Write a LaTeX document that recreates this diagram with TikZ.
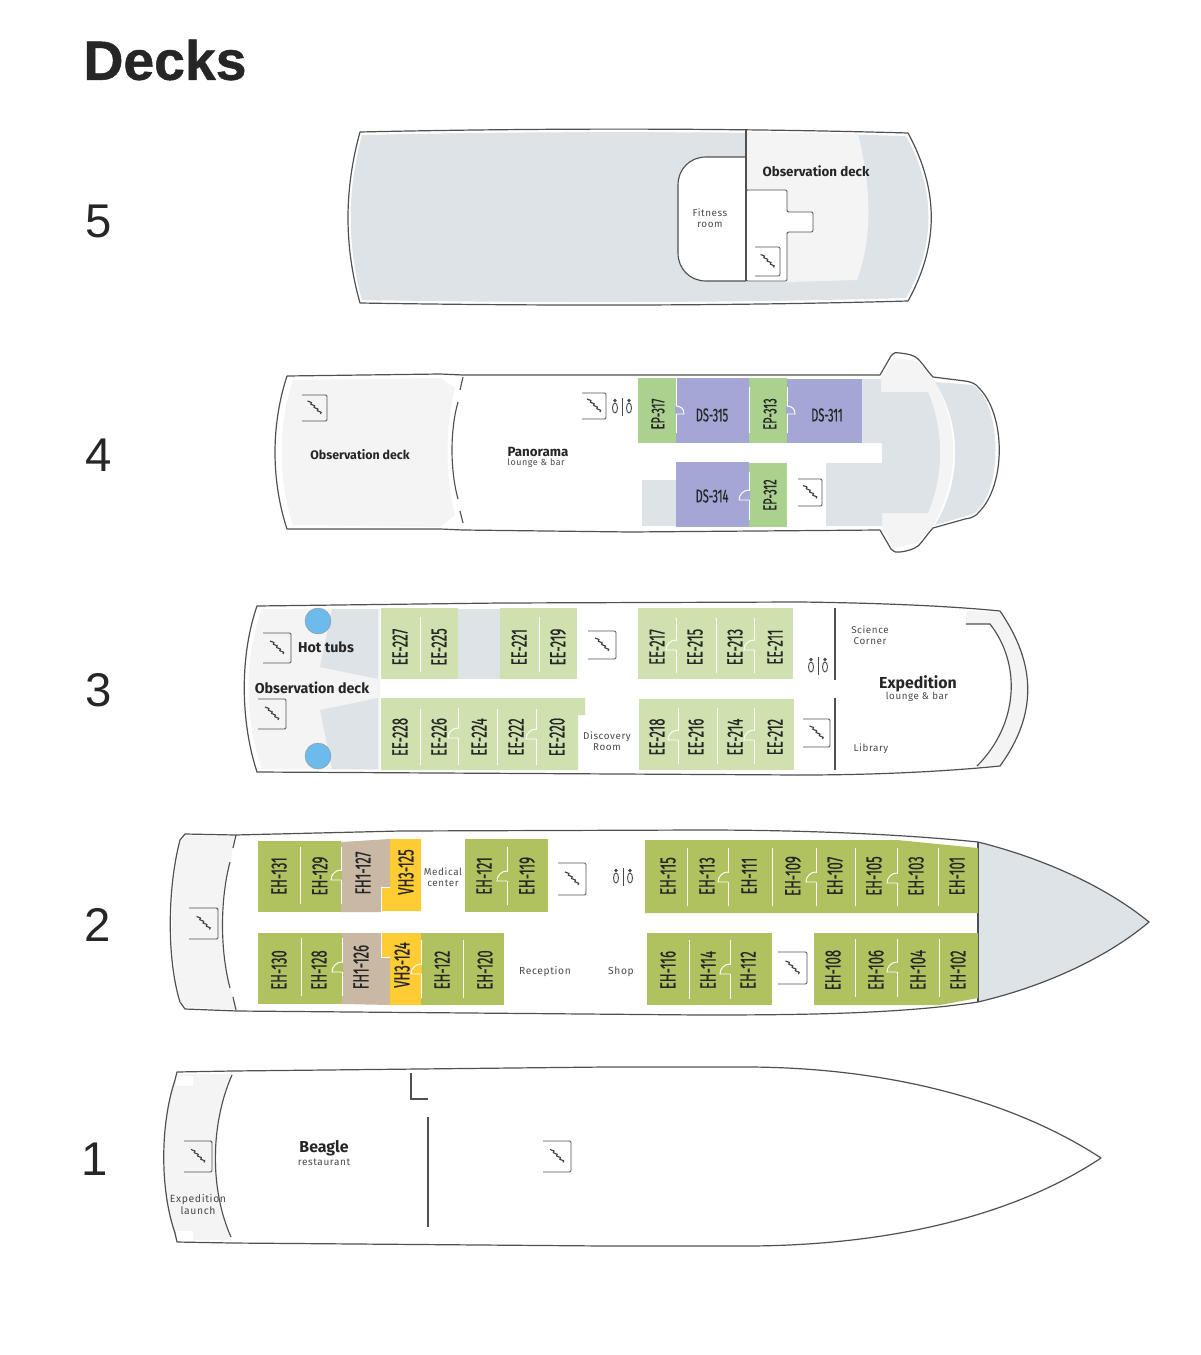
\documentclass[tikz,border=0pt]{standalone}
\usepackage{fontspec}
\setmainfont{Fira Sans}
\newfontfamily\titlef{Liberation Sans}
\newfontfamily\titleb[FakeBold=0.9]{Liberation Sans Bold}
\newfontfamily\condf[FakeStretch=0.59,FakeBold=0.5]{Fira Sans}
\newfontfamily\smallf[LetterSpace=6]{Fira Sans}
\definecolor{hull}{HTML}{505050}
\definecolor{greyf}{HTML}{DDE3E7}
\definecolor{lightf}{HTML}{F4F4F4}
\definecolor{ehc}{HTML}{B0C25F}
\definecolor{eec}{HTML}{CFE1AE}
\definecolor{epc}{HTML}{ABD18E}
\definecolor{dsc}{HTML}{A4A7D6}
\definecolor{fhc}{HTML}{C9B9A4}
\definecolor{vhc}{HTML}{FFCC33}
\definecolor{tubc}{HTML}{6DBBEC}
\definecolor{inkc}{HTML}{262626}
\definecolor{softc}{HTML}{4A4A4A}
\tikzset{
  hullline/.style={draw=hull,line width=0.9pt,line join=round},
  partline/.style={draw=hull,line width=0.85pt},
  stairline/.style={draw=hull,line width=0.7pt},
  squiggle/.style={draw=hull!80!black,line width=0.85pt,line join=round},
  wallline/.style={draw=white,line width=0.7pt},
  roomlabel/.style={rotate=90,inner sep=0pt,text=black!85,font=\condf\fontsize{16.5}{16.5}\selectfont},
  smallroom/.style={roomlabel,font=\condf\fontsize{14}{14}\selectfont},
  flatroom/.style={inner sep=0pt,text=black!85,font=\condf\fontsize{14}{14}\selectfont},
  deckno/.style={inner sep=0pt,text=inkc,font=\titlef\fontsize{35.5}{35.5}\selectfont},
  boldlabel/.style={inner sep=0pt,text=inkc,font=\bfseries\fontsize{10}{10}\selectfont},
  biglabel/.style={inner sep=0pt,text=inkc,font=\bfseries\fontsize{11.9}{11.9}\selectfont},
  smalllabel/.style={inner sep=0pt,align=center,text=softc,font=\smallf\fontsize{7.4}{8}\selectfont},
}
\newcommand{\roombox}[5]{\fill[#5] (#1,#2) rectangle (#3,#4);}
\newcommand{\rlab}[3]{\node[roomlabel] (r#3) at (#1,#2) {#3};}
\newcommand{\eplab}[3]{\node[smallroom] (r#3) at (#1,#2) {#3};}
\newcommand{\dslab}[3]{\node[flatroom] (r#3) at (#1,#2) {#3};}
\newcommand{\wallv}[3]{\draw[wallline] (#1,#2) -- (#1,#3);}
\newcommand{\doorl}[3]{\draw[draw=#3,line width=1.1pt] (#1,{#2-9.5}) -- (#1,{#2-0.5});
  \draw[wallline] (#1,#2) -- ({#1-10},#2) .. controls ({#1-10},{#2-5.5}) and ({#1-5.5},{#2-10}) .. (#1,{#2-10});}
\newcommand{\doorr}[3]{\draw[draw=#3,line width=1.1pt] (#1,{#2-8.5}) -- (#1,{#2-0.5});
  \draw[wallline] (#1,#2) -- ({#1+8},#2) .. controls ({#1+8},{#2-5}) and ({#1+5},{#2-8}) .. (#1,{#2-8});}
\newcommand{\stairs}[4]{\draw[stairline,rounded corners=1] (#1,#2) -- (#3,#2) -- (#3,#4) -- (#1,#4);
  \draw[squiggle] ({(#1+#3)/2-7},{(#2+#4)/2-7}) -- ++(4,1.5) -- ++(-0.75,1.75) -- ++(4,1.5) -- ++(-0.75,1.75) -- ++(4,1.5) -- ++(-0.75,1.75) -- ++(4,1.5) -- ++(-0.75,1.75);}
\newcommand{\wcicon}[2]{\draw[draw=softc,line width=0.6pt] (#1,{#2-9}) -- (#1,{#2+9});
  \fill[softc] ({#1-7},{#2-6.5}) circle (1.8) ({#1+7},{#2-6.5}) circle (1.8);
  \draw[draw=softc,line width=0.7pt] ({#1-7},{#2+1}) ellipse (2.5 and 5) ({#1+7},{#2+1}) ellipse (2.5 and 5);}
\begin{document}
\begin{tikzpicture}[x=0.75pt,y=-0.75pt]
\useasboundingbox (0,0) rectangle (1200,1355);
\fill[white] (0,0) rectangle (1200,1355);
\node[inner sep=0pt,text=inkc,font=\titleb\fontsize{41.5}{41.5}\selectfont] (title) at (165,60) {Decks};
\node[deckno] (n5) at (99,221) {5};
\node[deckno] (n4) at (99,455) {4};
\node[deckno] (n3) at (99,690) {3};
\node[deckno] (n2) at (98,925) {2};
\node[deckno] (n1) at (95,1159) {1};

% ---------- Deck 5
\fill[greyf] (362,135) .. controls (540,131) and (730,131) .. (906,136) .. controls (936,190) and (936,245) .. (906,298) .. controls (730,303) and (540,303) .. (362,300) .. controls (347,246) and (347,190) .. (362,135) -- cycle;
\fill[lightf] (746,132) -- (858,134) .. controls (872,190) and (872,240) .. (857,280) -- (787,282) -- (746,282) -- cycle;
\path[hullline] (360,132) .. controls (540,128) and (730,128) .. (908,133) .. controls (939,190) and (939,245) .. (908,301) .. controls (730,306) and (540,306) .. (360,303) .. controls (344,246) and (344,190) .. (360,132) -- cycle;
\path[partline,fill=white] (746,157) -- (706,157) .. controls (690,157) and (678,169) .. (678,185) -- (678,253) .. controls (678,269) and (690,281) .. (706,281) -- (746,281);
\path[draw=hull,line width=0.7pt,fill=white,rounded corners=1] (746,190) -- (787,190) -- (787,212) -- (813,212) -- (813,232) -- (787,232) -- (787,281) -- (746,281) -- cycle;
\draw[partline] (746,130) -- (746,281);
\stairs{755}{247}{780}{276}
\node[boldlabel] (obs5) at (816,171) {Observation deck};
\node[smalllabel] (fit) at (710,218) {Fitness\\room};

% ---------- Deck 4
\fill[lightf] (293,380) -- (440,378) -- (455,388) .. controls (445,425) and (445,478) .. (455,515) -- (440,527) -- (293,525) .. controls (278,480) and (278,425) .. (293,380) -- cycle;
\fill[lightf] (881,377) -- (893,358) -- (917,361) -- (933,378) .. controls (960,425) and (960,480) .. (932,527) -- (917,543) -- (893,548) -- (882,527) -- (882,513) -- (881,392) -- cycle;
\fill[greyf] (935,382) -- (973,385) .. controls (1003,405) and (1003,495) .. (973,514) -- (935,525) .. controls (962,480) and (962,425) .. (935,382) -- cycle;
\fill[greyf] (862,379) -- (881,379) -- (881,392) -- (928,392) .. controls (944,430) and (944,475) .. (928,513) -- (882,513) -- (882,526) -- (826,526) -- (826,463) -- (882,463) -- (882,443) -- (862,443) -- cycle;
\fill[greyf] (642,480) rectangle (676,526);
\path[hullline] (287,376) -- (440,374) -- (463,375) -- (880,375) -- (891,356) .. controls (894,352) and (897,352) .. (900,353) .. controls (908,354) and (914,355) .. (918,359) .. controls (924,365) and (928,372) .. (933,377) -- (965,381) .. controls (972,382) and (976,384) .. (979,388) .. controls (1006,415) and (1006,485) .. (979,512) .. controls (976,516) and (972,518) .. (965,519) -- (933,528) .. controls (928,533) and (924,540) .. (918,546) .. controls (914,549) and (908,551) .. (900,552) .. controls (897,553) and (894,552) .. (891,549) -- (880,530) -- (630,532) -- (463,530) -- (440,529) -- (287,529) .. controls (271,480) and (271,425) .. (287,376) -- cycle;
\draw[partline] (463,377) -- (460,390);
\draw[partline] (458,402) .. controls (450,430) and (450,470) .. (458,499);
\draw[partline] (460,511) -- (463,523);
\roombox{638}{378}{676}{443}{epc}
\roombox{676}{378}{749}{443}{dsc}
\roombox{749}{378}{787}{443}{epc}
\roombox{787}{379}{862}{443}{dsc}
\roombox{676}{462}{749}{527}{dsc}
\roombox{749}{463}{787}{527}{epc}
\wallv{676}{378}{433}
\wallv{749}{387}{433}
\wallv{787}{387}{433}
\wallv{749}{472}{520}
\doorr{676}{414}{dsc}
\doorr{787}{414}{dsc}
\doorl{749}{500}{dsc}
\eplab{658}{414}{EP-317}
\dslab{712}{415}{DS-315}
\eplab{770}{414}{EP-313}
\dslab{827}{415}{DS-311}
\dslab{712}{496}{DS-314}
\eplab{770}{495}{EP-312}
\stairs{302}{395}{327}{421}
\stairs{582}{393}{606}{419}
\stairs{798}{479}{822}{506}
\wcicon{622}{407}
\node[boldlabel,font=\bfseries\fontsize{9.3}{9.3}\selectfont] (obs4) at (360,455) {Observation deck};
\node[boldlabel] (pan) at (538,452) {Panorama};
\node[smalllabel,font=\smallf\fontsize{6.7}{8}\selectfont] (pansub) at (536,463) {lounge \& bar};

% ---------- Deck 3
\fill[lightf] (262,609) -- (380,609) -- (380,770) -- (262,769) .. controls (244,720) and (244,655) .. (262,609) -- cycle;
\fill[greyf] (332,609) -- (378,609) -- (378,679) -- (320,667) -- cycle;
\fill[greyf] (378,698) -- (320,710) -- (332,769) -- (378,769) -- cycle;
\fill[greyf] (458,609) rectangle (500,679);
\fill[lightf] (966,611) -- (1000,612) .. controls (1036,665) and (1036,715) .. (1000,766) -- (977,766) .. controls (1013,735) and (1022,665) .. (990,624) -- (966,624) -- cycle;
\path[hullline] (257,606) -- (500,603) -- (800,602) .. controls (880,603) and (950,606) .. (1000,611) .. controls (1037,665) and (1037,715) .. (1000,766) .. controls (950,771) and (880,775) .. (800,775) -- (257,772) .. controls (240,720) and (240,655) .. (257,606) -- cycle;
\draw[partline] (966,624) -- (990,624) .. controls (1022,665) and (1018,725) .. (977,766);
\draw[partline] (835,608) -- (835,680);
\draw[partline] (835,698) -- (835,770);
\roombox{381}{608}{458}{679}{eec}
\roombox{500}{608}{577}{679}{eec}
\fill[eec] (381,698) -- (585,698) -- (585,715) -- (578,715) -- (578,770) -- (381,770) -- cycle;
\roombox{638}{608}{793}{679}{eec}
\roombox{639}{699}{794}{770}{eec}
\wallv{420}{617}{672}
\wallv{539}{617}{672}
\wallv{420}{709}{765}
\wallv{458}{708}{765}
\wallv{497}{709}{765}
\wallv{536}{709}{765}
\wallv{676}{618}{673}
\wallv{716}{618}{673}
\wallv{754}{618}{673}
\wallv{678}{708}{764}
\wallv{717}{708}{764}
\wallv{754}{708}{764}
\doorl{458}{738}{eec}
\doorl{536}{739}{eec}
\doorl{676}{650}{eec}
\doorl{754}{650}{eec}
\doorl{678}{740}{eec}
\doorl{754}{740}{eec}
\rlab{400}{647}{EE-227}
\rlab{439}{647}{EE-225}
\rlab{519}{647}{EE-221}
\rlab{558}{647}{EE-219}
\rlab{400}{737}{EE-228}
\rlab{439}{737}{EE-226}
\rlab{479}{737}{EE-224}
\rlab{516}{737}{EE-222}
\rlab{557}{737}{EE-220}
\rlab{657}{647}{EE-217}
\rlab{695}{647}{EE-215}
\rlab{735}{647}{EE-213}
\rlab{775}{647}{EE-211}
\rlab{657}{737}{EE-218}
\rlab{696}{737}{EE-216}
\rlab{735}{737}{EE-214}
\rlab{775}{737}{EE-212}
\fill[tubc,draw=softc!60,line width=0.3pt] (318,621) circle (13);
\fill[tubc,draw=softc!60,line width=0.3pt] (318,756) circle (13);
\stairs{263}{633}{291}{663}
\stairs{258}{699}{286}{729}
\stairs{588}{631}{616}{659}
\stairs{803}{719}{830}{747}
\wcicon{818}{666}
\node[boldlabel,font=\bfseries\fontsize{10.7}{10.7}\selectfont] (hot) at (326,647) {Hot tubs};
\node[boldlabel,font=\bfseries\fontsize{10.7}{10.7}\selectfont] (obs3) at (312,688) {Observation deck};
\node[smalllabel] (disc) at (607,741) {Discovery\\Room};
\node[smalllabel] (sci) at (870,635) {Science\\Corner};
\node[biglabel] (exp3) at (918,684) {Expedition};
\node[smalllabel,font=\smallf\fontsize{7.3}{8}\selectfont] (exp3sub) at (917,697) {lounge \& bar};
\node[smalllabel] (lib) at (871,749) {Library};

% ---------- Deck 2
\fill[lightf] (186,836) -- (236,836) -- (222,925) -- (236,1010) -- (186,1007) -- (181,1001) .. controls (169,960) and (169,890) .. (181,841) -- cycle;
\fill[greyf] (978,842) .. controls (1050,860) and (1110,890) .. (1149,922) .. controls (1110,955) and (1050,985) .. (978,1002) -- cycle;
\fill[white] (236,835) -- (233,848) -- (230,862) .. controls (220,900) and (220,950) .. (230,988) -- (233,997) -- (236,1010) -- (250,1010) -- (250,835) -- cycle;
\path[hullline,rounded corners=2] (185,834) -- (235,835) -- (400,831) -- (700,830) [sharp corners] .. controls (800,830) and (900,834) .. (978,842) .. controls (1050,860) and (1110,890) .. (1149,922) .. controls (1110,955) and (1050,985) .. (978,1002) .. controls (900,1014) and (800,1015) .. (700,1015) -- (237,1011) -- (185,1009) -- (180,1002) .. controls (167,960) and (167,890) .. (180,840) -- cycle;
\draw[partline] (236,835) -- (233,848);
\draw[partline] (230,862) .. controls (220,900) and (220,950) .. (230,988);
\draw[partline] (233,997) -- (236,1010);
\draw[partline] (978,842) -- (978,1002);
\roombox{258}{841}{341}{912}{ehc}
\fill[fhc] (341,842) -- (390,839) -- (390,887) -- (381,887) -- (381,912) -- (341,912) -- cycle;
\fill[vhc] (390,839) -- (421,839) -- (421,911) -- (381,911) -- (381,887) -- (390,887) -- cycle;
\draw[wallline] (381,887) -- (390,887);
\draw[wallline] (381,887) -- (381,911);
\roombox{465}{839}{548}{912}{ehc}
\roombox{258}{933}{342}{1004}{ehc}
\fill[fhc] (342,933) -- (381,933) -- (381,957) -- (390,957) -- (390,1005) -- (342,1004) -- cycle;
\fill[vhc] (381,933) -- (421,933) -- (421,1005) -- (390,1005) -- (390,957) -- (381,957) -- cycle;
\draw[wallline] (381,933) -- (381,957) -- (390,957);
\roombox{421}{933}{504}{1005}{ehc}
\fill[ehc] (645,840) -- (897,840) -- (978,848) -- (978,913) -- (645,913) -- cycle;
\roombox{647}{933}{772}{1005}{ehc}
\fill[ehc] (814,933) -- (978,933) -- (978,998) -- (940,1005) -- (814,1005) -- cycle;
\wallv{300}{847}{904}
\wallv{341}{847}{904}
\wallv{507}{847}{905}
\wallv{301}{938}{996}
\wallv{342}{938}{996}
\wallv{421}{940}{998}
\wallv{463}{940}{998}
\wallv{687}{848}{906}
\wallv{728}{848}{906}
\wallv{772}{848}{906}
\wallv{816}{848}{906}
\wallv{855}{848}{906}
\wallv{897}{848}{906}
\wallv{938}{848}{906}
\wallv{689}{940}{999}
\wallv{730}{940}{999}
\wallv{855}{939}{997}
\wallv{897}{939}{997}
\wallv{939}{939}{997}
\doorl{341}{880}{ehc}
\doorl{342}{972}{ehc}
\doorl{421}{974}{vhc}
\doorl{507}{881}{ehc}
\doorl{728}{882}{ehc}
\doorl{816}{882}{ehc}
\doorl{897}{883}{ehc}
\doorl{730}{974}{ehc}
\doorl{897}{972}{ehc}
\rlab{279}{876}{EH-131}
\rlab{320}{876}{EH-129}
\rlab{363}{873}{FH1-127}
\rlab{406}{872}{VH3-125}
\rlab{484}{876}{EH-121}
\rlab{527}{876}{EH-119}
\rlab{279}{970}{EH-130}
\rlab{319}{970}{EH-128}
\rlab{361}{967}{FH1-126}
\rlab{402}{965}{VH3-124}
\rlab{442}{970}{EH-122}
\rlab{485}{970}{EH-120}
\rlab{668}{876}{EH-115}
\rlab{707}{876}{EH-113}
\rlab{749}{876}{EH-111}
\rlab{793}{876}{EH-109}
\rlab{835}{876}{EH-107}
\rlab{874}{876}{EH-105}
\rlab{916}{876}{EH-103}
\rlab{957}{876}{EH-101}
\rlab{668}{970}{EH-116}
\rlab{708}{970}{EH-114}
\rlab{748}{970}{EH-112}
\rlab{833}{970}{EH-108}
\rlab{876}{970}{EH-106}
\rlab{918}{970}{EH-104}
\rlab{958}{970}{EH-102}
\stairs{189}{908}{218}{939}
\stairs{558}{863}{586}{895}
\stairs{778}{952}{807}{984}
\wcicon{623}{877}
\node[smalllabel] (med) at (443,877) {Medical\\center};
\node[smalllabel,font=\smallf\fontsize{7.7}{8}\selectfont] (rec) at (545,972) {Reception};
\node[smalllabel,font=\smallf\fontsize{7.7}{8}\selectfont] (shop) at (621,972) {Shop};

% ---------- Deck 1
\fill[lightf] (177,1074) -- (232,1074) .. controls (212,1125) and (212,1190) .. (231,1240) -- (177,1240) .. controls (160,1190) and (160,1125) .. (177,1074) -- cycle;
\fill[white] (176,1076) rectangle (193,1086);
\fill[white] (176,1231) rectangle (193,1240);
\path[hullline] (177,1072) -- (232,1071) -- (605,1067) -- (750,1067) .. controls (900,1068) and (1020,1105) .. (1101,1158) .. controls (1020,1212) and (900,1245) .. (750,1246) -- (605,1246) -- (232,1243) -- (177,1242) -- (175,1233) .. controls (160,1190) and (160,1125) .. (175,1080) -- cycle;
\draw[partline] (232,1075) .. controls (210,1125) and (210,1190) .. (231,1237);
\draw[partline] (411,1073) -- (411,1099) -- (428,1099);
\draw[partline] (428,1117) -- (428,1227);
\stairs{184}{1141}{212}{1172}
\stairs{543}{1141}{571}{1172}
\node[biglabel] (bea) at (324,1148) {Beagle};
\node[smalllabel,font=\smallf\fontsize{7.5}{8}\selectfont] (beasub) at (324,1162) {restaurant};
\node[smalllabel,font=\smallf\fontsize{7.8}{9}\selectfont] (lau) at (198,1204) {Expedition\\launch};
\end{tikzpicture}
\end{document}
